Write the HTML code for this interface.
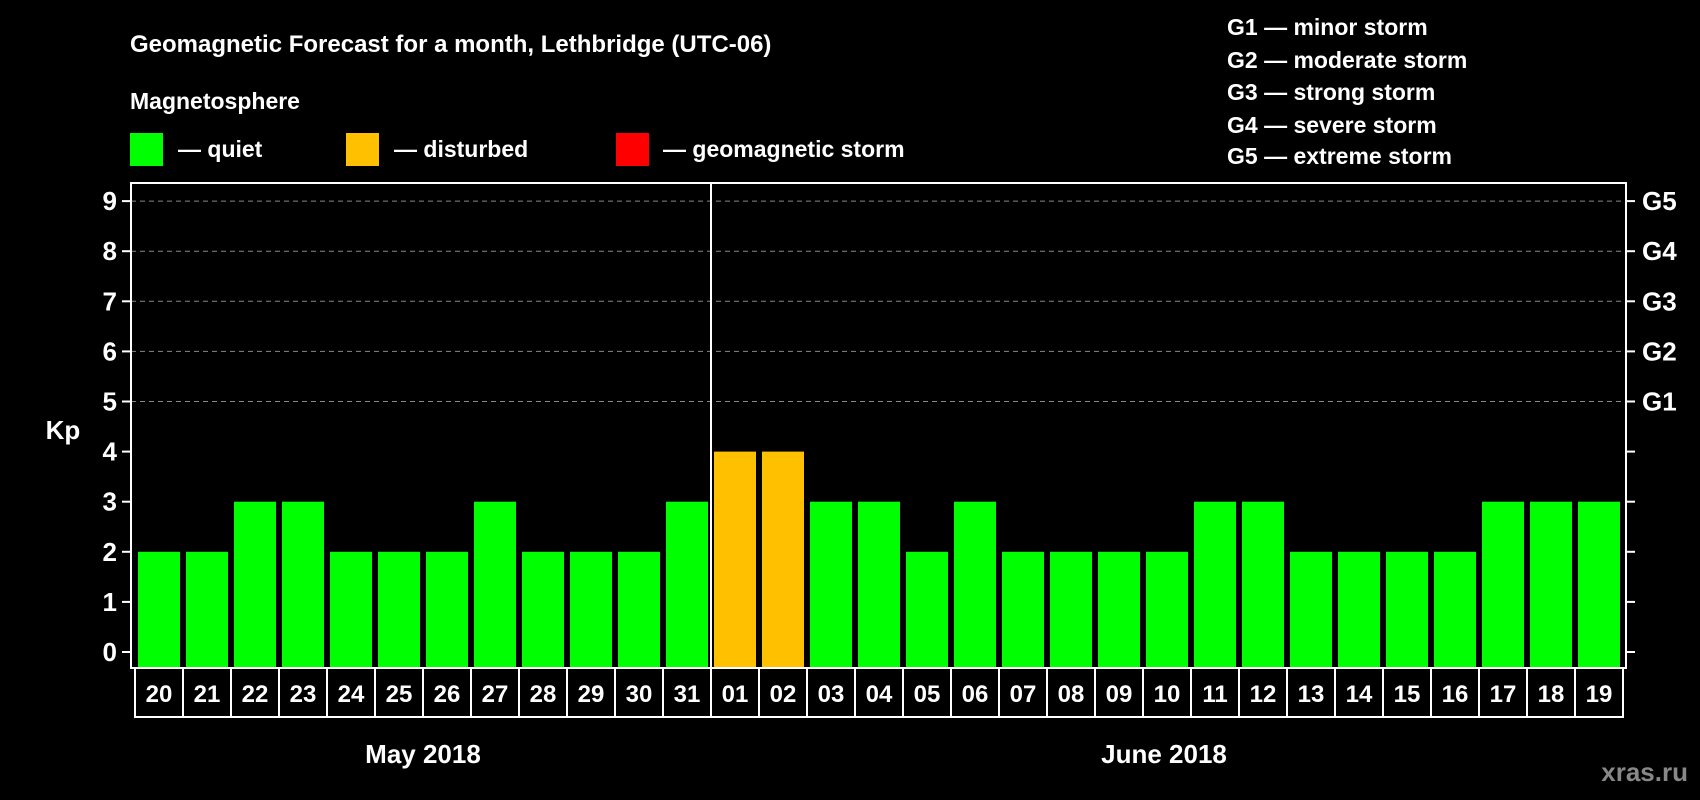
<!DOCTYPE html>
<html><head><meta charset="utf-8"><style>
body{margin:0;background:#000;width:1700px;height:800px;overflow:hidden}
svg{display:block;font-family:"Liberation Sans",sans-serif;font-weight:bold}
</style></head><body>
<svg id="c" width="1700" height="800">
<text x="130" y="52" fill="#fff" font-size="24">Geomagnetic Forecast for a month, Lethbridge (UTC-06)</text>
<text x="130" y="109" fill="#fff" font-size="23">Magnetosphere</text>
<g><rect x="130" y="133" width="33" height="33" fill="#00ff00"/><text x="178" y="157" fill="#fff" font-size="23">— quiet</text></g>
<g><rect x="346" y="133" width="33" height="33" fill="#ffc000"/><text x="394" y="157" fill="#fff" font-size="23">— disturbed</text></g>
<g><rect x="616" y="133" width="33" height="33" fill="#ff0000"/><text x="663" y="157" fill="#fff" font-size="23">— geomagnetic storm</text></g>
<g fill="#fff" font-size="23">
<text x="1227" y="35">G1 — minor storm</text>
<text x="1227" y="68">G2 — moderate storm</text>
<text x="1227" y="100">G3 — strong storm</text>
<text x="1227" y="133">G4 — severe storm</text>
<text x="1227" y="164">G5 — extreme storm</text>
</g>
<text x="63" y="439" fill="#fff" font-size="26" text-anchor="middle">Kp</text>
<text x="423" y="763" fill="#fff" font-size="26" text-anchor="middle">May 2018</text>
<text x="1164" y="763" fill="#fff" font-size="26" text-anchor="middle">June 2018</text>
<text x="1688" y="781" fill="#888" font-size="26" text-anchor="end">xras.ru</text>
</svg>
<script>
const days=["20","21","22","23","24","25","26","27","28","29","30","31","01","02","03","04","05","06","07","08","09","10","11","12","13","14","15","16","17","18","19"];
const kpValues=[2,2,3,3,2,2,2,3,2,2,2,3,4,4,3,3,2,3,2,2,2,2,3,3,2,2,2,2,3,3,3];
const yTicks=[0,1,2,3,4,5,6,7,8,9];
const gLabels=["G1","G2","G3","G4","G5"];
const svg=document.getElementById('c');const NS="http://www.w3.org/2000/svg";
const L=131,R=1626,T=183,B=668,cellX0=135,cellW=48;
const y=v=>652-50.1*v;
const x=i=>cellX0+i*cellW;
function mk(t,a,p){const e=document.createElementNS(NS,t);for(const k in a)e.setAttribute(k,a[k]);(p||svg).appendChild(e);return e;}
// grid
yTicks.forEach(v=>{
 if(v>=5){const g=mk('line',{x1:L,x2:R,y1:y(v),y2:y(v),stroke:'#888','stroke-dasharray':'5,4','stroke-width':1});
 
 }
 const t=mk('line',{x1:L-9,x2:L,y1:y(v),y2:y(v),stroke:'#fff','stroke-width':2});
 
 
 const t2=mk('line',{x1:R,x2:R+9,y1:y(v),y2:y(v),stroke:'#fff','stroke-width':2});
 
 
 const lb=mk('text',{x:L-14,y:y(v)+9,fill:'#fff','font-size':26,'text-anchor':'end'});lb.textContent=v;
 
 
});
gLabels.forEach((g,i)=>{const lb=mk('text',{x:R+16,y:y(5+i)+9,fill:'#fff','font-size':26});lb.textContent=g;
 
 });
// bars
kpValues.forEach((v,i)=>{
 const col=v>=5?'#ff0000':(v>=4?'#ffc000':'#00ff00');
 const b=mk('rect',{x:x(i)+3,y:y(v),width:cellW-6,height:B-1-y(v),fill:col});
 
 
 const c=mk('rect',{x:x(i),y:B,width:cellW,height:49,fill:'none',stroke:'#fff','stroke-width':2});
 
 
 const t=mk('text',{x:x(i)+cellW/2,y:B+34,fill:'#fff','font-size':24,'text-anchor':'middle'});t.textContent=days[i];
 
 
});
const f=mk('rect',{x:L,y:T,width:R-L,height:B-T,fill:'none',stroke:'#fff','stroke-width':2});


const sep=mk('line',{x1:x(12),x2:x(12),y1:T,y2:B,stroke:'#fff','stroke-width':2});


</script>
</body></html>
